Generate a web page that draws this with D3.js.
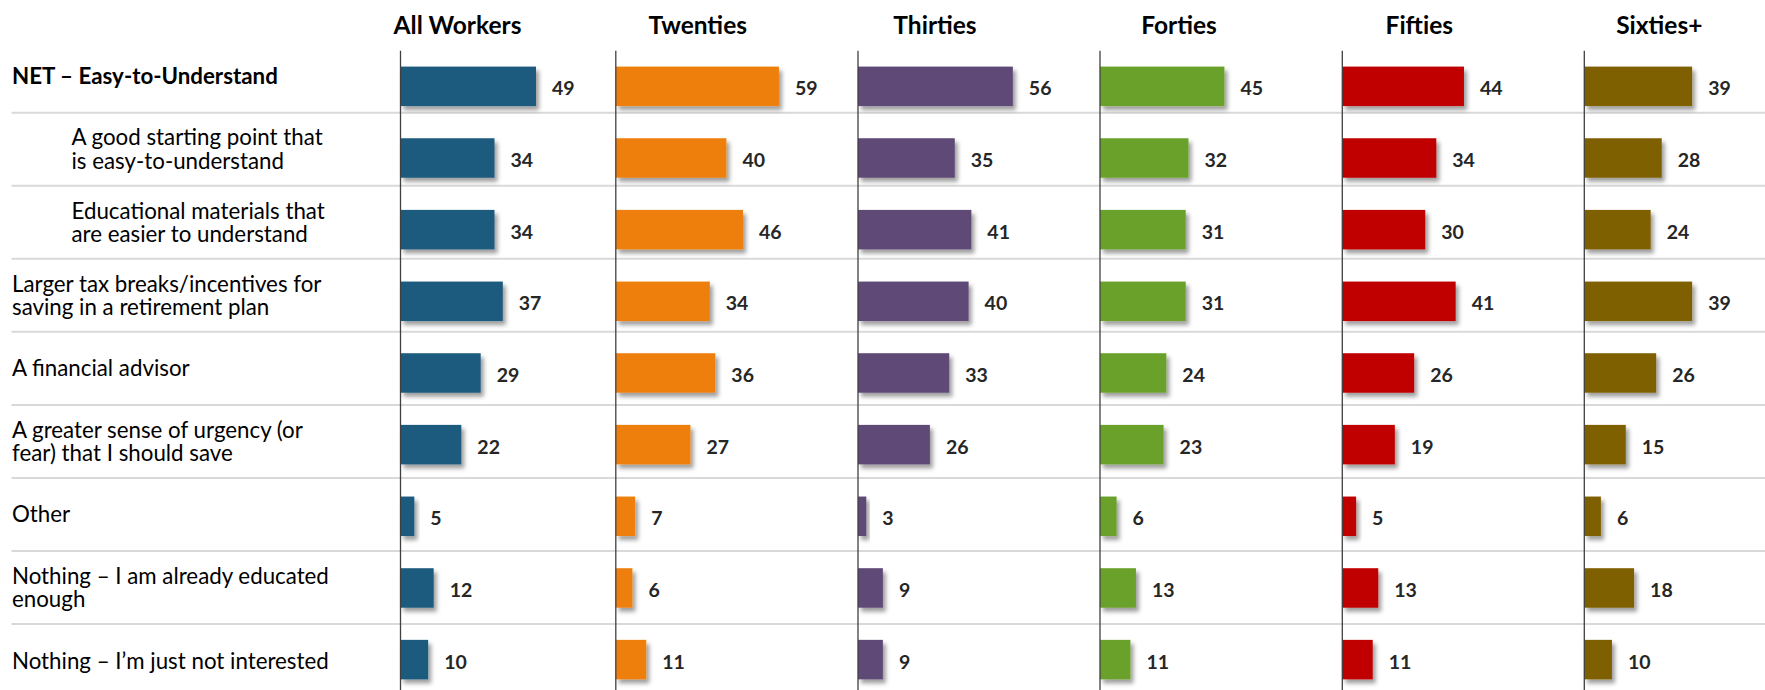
<!DOCTYPE html>
<html>
<head>
<meta charset="utf-8">
<script src="https://cdn.jsdelivr.net/npm/d3@7"></script>
<style>
  html, body { margin: 0; padding: 0; background: #ffffff; }
  svg { display: block; }
  text { font-family: Lato, "Open Sans", "Liberation Sans", sans-serif; }
</style>
</head>
<body>
<svg id="chart" width="1765" height="690"></svg>
<script>
// Answer options (rows), "|" marks a line break
const categories = [
  "NET – Easy-to-Understand",
  "A good starting point that|is easy-to-understand",
  "Educational materials that|are easier to understand",
  "Larger tax breaks/incentives for|saving in a retirement plan",
  "A financial advisor",
  "A greater sense of urgency (or|fear) that I should save",
  "Other",
  "Nothing – I am already educated|enough",
  "Nothing – I’m just not interested"
];

// Age groups (panels)
const groups = ["All Workers", "Twenties", "Thirties", "Forties", "Fifties", "Sixties+"];

// Percent of respondents per row, one array per group
const allWorkers = [49, 34, 34, 37, 29, 22, 5, 12, 10];
const twenties   = [59, 40, 46, 34, 36, 27, 7, 6, 11];
const thirties   = [56, 35, 41, 40, 33, 26, 3, 9, 9];
const forties    = [45, 32, 31, 31, 24, 23, 6, 13, 11];
const fifties    = [44, 34, 30, 41, 26, 19, 5, 13, 11];
const sixtiesPlus = [39, 28, 24, 39, 26, 15, 6, 18, 10];

const seriesValues = [allWorkers, twenties, thirties, forties, fifties, sixtiesPlus];

// ---- layout & style ----
const colors = ["#1f5a7e", "#ef7f0d", "#5f4876", "#6aa12b", "#c00000", "#7f6000"];
const panelX = [400.5, 615.8, 858, 1100, 1342.3, 1584.3];
const titleOffset = [57, 82, 77, 79, 77, 75];
const boldRows = new Set([0]);
const indentRows = new Set([1, 2]);

const svg = d3.select("#chart");

const defs = svg.append("defs");
const shadow = defs.append("filter").attr("id", "barShadow")
  .attr("x", "-20%").attr("y", "-30%").attr("width", "160%").attr("height", "180%");
shadow.append("feDropShadow")
  .attr("dx", 3).attr("dy", 4).attr("stdDeviation", 2.2)
  .attr("flood-color", "#000").attr("flood-opacity", 0.38);

// Row grid for labels and separators
const yRows = d3.scaleBand().domain(d3.range(categories.length))
  .range([39.7, 39.7 + 73.04 * categories.length]);

// Bar positions
const yBars = d3.scaleBand().domain(d3.range(categories.length))
  .range([50.5, 50.5 + 71.66 * categories.length])
  .paddingInner(0.449).paddingOuter(0.2245);

const x = d3.scaleLinear().domain([0, 100]).range([0, 276.5]);

// Row separators
svg.append("g").selectAll("line")
  .data(d3.range(1, categories.length))
  .join("line")
  .attr("x1", 11.5).attr("x2", 1765)
  .attr("y1", d => yRows(d)).attr("y2", d => yRows(d))
  .attr("stroke", "#d9d9d9").attr("stroke-width", 2);

// Row labels
const labels = svg.append("g").selectAll("text")
  .data(categories)
  .join("text")
  .attr("x", (d, i) => indentRows.has(i) ? 71.5 : 12)
  .attr("fill", "#000")
  .attr("font-size", 22.3)
  .attr("font-weight", (d, i) => boldRows.has(i) ? 700 : 400);

labels.each(function(d, i) {
  const lines = d.split("|");
  const cy = yRows(i) + yRows.bandwidth() / 2;
  const lh = 23.6;
  const t = d3.select(this);
  lines.forEach((ln, k) => {
    t.append("tspan")
      .attr("x", indentRows.has(i) ? 71.5 : 12)
      .attr("y", cy + (k - (lines.length - 1) / 2) * lh)
      .attr("dy", "0.36em")
      .text(ln);
  });
});

// Panels
groups.forEach((g, gi) => {
  const px = panelX[gi];
  const panel = svg.append("g").attr("transform", `translate(${px},0)`);

  panel.append("text")
    .attr("x", titleOffset[gi]).attr("y", 33.5)
    .attr("text-anchor", "middle")
    .attr("font-size", 24.5).attr("font-weight", 700)
    .attr("fill", "#000")
    .text(g);

  panel.selectAll("rect")
    .data(seriesValues[gi])
    .join("rect")
    .attr("x", 0)
    .attr("y", (d, i) => yBars(i))
    .attr("width", d => x(d))
    .attr("height", yBars.bandwidth())
    .attr("fill", colors[gi])
    .attr("filter", "url(#barShadow)");

  panel.selectAll("text.val")
    .data(seriesValues[gi])
    .join("text")
    .attr("class", "val")
    .attr("x", d => x(d) + 16)
    .attr("y", (d, i) => yBars(i) + yBars.bandwidth() / 2 + 2)
    .attr("dy", "0.36em")
    .attr("font-size", 19.5).attr("font-weight", 700)
    .attr("fill", "#262626")
    .text(d => d);

  panel.append("line")
    .attr("x1", 0).attr("x2", 0)
    .attr("y1", 50.7).attr("y2", 690)
    .attr("stroke", "#404040").attr("stroke-width", 1.3);
});
</script>
</body>
</html>
